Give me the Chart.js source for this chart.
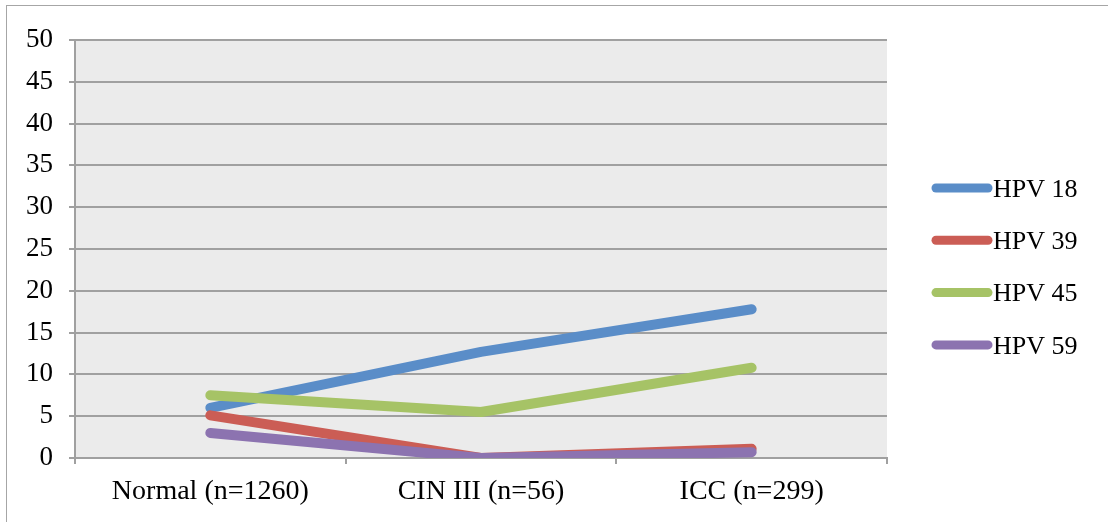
<!DOCTYPE html>
<html>
<head>
<meta charset="utf-8">
<script src="https://cdn.jsdelivr.net/npm/chart.js@4/dist/chart.umd.min.js"></script>
<style>
  html, body { margin: 0; padding: 0; background: #fff; overflow: hidden; }
  .frame { position: absolute; left: 6px; top: 5px; width: 1200px; height: 700px; border: 1px solid #a6a6a6; }
  .wrap { position: absolute; left: 0; top: 0; width: 1108px; height: 522px; }
</style>
</head>
<body>
<div class="frame"></div>
<div class="wrap"><canvas id="c"></canvas></div>
<script>
var categories = ["Normal (n=1260)", "CIN III (n=56)", "ICC (n=299)"];
var seriesNames = ["HPV 18", "HPV 39", "HPV 45", "HPV 59"];
var hpv18 = [6.0, 12.7, 17.8];
var hpv39 = [5.1, 0.0, 1.1];
var hpv45 = [7.5, 5.5, 10.8];
var hpv59 = [3.0, 0.0, 0.7];
var colors = ["#5a8dc8", "#cb5d55", "#a6c366", "#8c73b0"];

var font = "'Liberation Serif', 'DejaVu Serif', serif";

// gray plot background
var plotBg = {
  id: "plotBg",
  beforeDraw: function(chart) {
    var a = chart.chartArea, ctx = chart.ctx;
    ctx.save();
    ctx.fillStyle = "#ebebeb";
    ctx.fillRect(a.left, a.top, a.right - a.left, a.bottom - a.top);
    ctx.restore();
  }
};

// legend drawn to the right, line swatch directly against text
var sideLegend = {
  id: "sideLegend",
  afterDraw: function(chart) {
    var ctx = chart.ctx;
    ctx.save();
    ctx.font = "26px " + font;
    ctx.textBaseline = "middle";
    chart.data.datasets.forEach(function(ds, i) {
      var y = 188 + i * 52.3;
      ctx.strokeStyle = ds.borderColor;
      ctx.lineWidth = 9;
      ctx.lineCap = "round";
      ctx.beginPath();
      ctx.moveTo(936, y);
      ctx.lineTo(988, y);
      ctx.stroke();
      ctx.fillStyle = "#000";
      ctx.fillText(ds.label, 993, y + 2);
    });
    ctx.restore();
  }
};

var values = [hpv18, hpv39, hpv45, hpv59];
var datasets = seriesNames.map(function(name, i) {
  return {
    label: name,
    data: values[i],
    order: seriesNames.length - 1 - i,
    borderColor: colors[i],
    backgroundColor: colors[i],
    borderWidth: 10,
    borderCapStyle: "round",
    borderJoinStyle: "round",
    pointRadius: 0,
    tension: 0
  };
});

new Chart(document.getElementById("c"), {
  type: "line",
  data: { labels: categories, datasets: datasets },
  options: {
    responsive: true,
    maintainAspectRatio: false,
    animation: false,
    layout: { padding: { top: 40, right: 221, left: 0, bottom: 0 } },
    plugins: { legend: { display: false }, tooltip: { enabled: false } },
    scales: {
      x: {
        offset: true,
        grid: { offset: true, drawOnChartArea: false, drawTicks: true, tickLength: 6, color: "#a0a0a0", lineWidth: 2 },
        border: { color: "#a0a0a0", width: 2 },
        ticks: { color: "#000", font: { family: font, size: 28 }, padding: 11, maxRotation: 0 },
        afterFit: function(s) { s.height = 64; }
      },
      y: {
        min: 0, max: 50,
        grid: { color: "#a0a0a0", lineWidth: 2, tickLength: 6 },
        border: { color: "#a0a0a0", width: 2 },
        ticks: { stepSize: 5, color: "#000", font: { family: font, size: 27 }, padding: 16 },
        afterFit: function(s) { s.width = 75; }
      }
    }
  },
  plugins: [plotBg, sideLegend]
});
</script>
</body>
</html>
